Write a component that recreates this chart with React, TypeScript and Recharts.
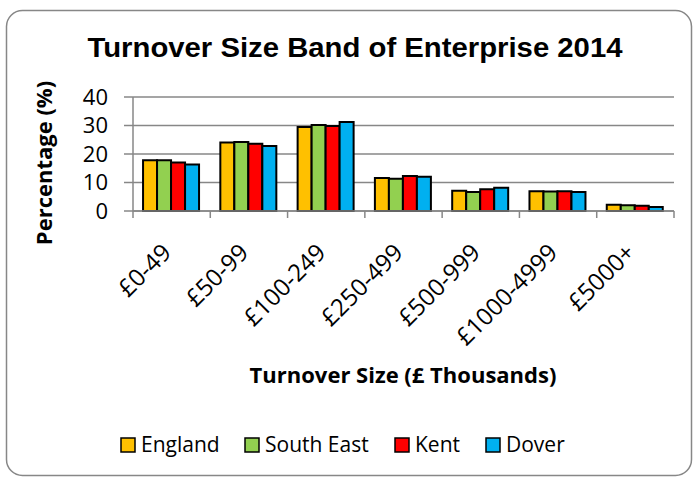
import { BarChart, Bar, XAxis, YAxis, CartesianGrid } from 'recharts';

const categories = ['£0-49', '£50-99', '£100-249', '£250-499', '£500-999', '£1000-4999', '£5000+'];
const england = [17.8, 24.0, 29.5, 11.6, 7.1, 6.9, 2.2];
const southEast = [17.8, 24.2, 30.2, 11.3, 6.7, 6.8, 2.0];
const kent = [17.0, 23.6, 29.8, 12.3, 7.6, 6.9, 1.8];
const dover = [16.3, 22.8, 31.2, 12.0, 8.2, 6.7, 1.4];
const yTicks = [0, 10, 20, 30, 40];

const SERIES = [
    { key: 'england', name: 'England', color: '#FFC000' },
    { key: 'southEast', name: 'South East', color: '#92D050' },
    { key: 'kent', name: 'Kent', color: '#FF0000' },
    { key: 'dover', name: 'Dover', color: '#00B0F0' },
];

const data = categories.map((band, i) => ({
    band,
    england: england[i],
    southEast: southEast[i],
    kent: kent[i],
    dover: dover[i],
}));

const FONT = '"Open Sans", "Noto Sans", sans-serif';
const AXIS_GREY = '#878787';

// Excel style: tick marks at category boundaries, label rotated -45 and ending at the centre
const CategoryTick = (props: any) => {
    const { x, y, payload, index, visibleTicksCount } = props;
    const half = payload?.offset ?? 38.7;
    return (
        <g>
            <line x1={x - half} x2={x - half} y1={y} y2={y + 7} stroke={AXIS_GREY} strokeWidth={1.5} />
            {index === visibleTicksCount - 1 && (
                <line x1={x + half} x2={x + half} y1={y} y2={y + 7} stroke={AXIS_GREY} strokeWidth={1.5} />
            )}
            <text
                transform={`translate(${x + 1},${y + 43}) rotate(-45)`}
                textAnchor="end"
                fontFamily={FONT}
                fontSize={24}
                fill="#000"
            >
                {payload.value}
            </text>
        </g>
    );
};

export default function App() {
    return (
        <div style={{ position: 'absolute', left: 0, top: 0, width: 696, height: 479, background: '#fff' }}>
            <BarChart
                width={696}
                height={479}
                data={data}
                margin={{ top: 97, right: 22, bottom: 0, left: 0 }}
                barCategoryGap="13%"
                barGap={0}
            >
                <CartesianGrid vertical={false} stroke={AXIS_GREY} strokeWidth={1.5} />
                <XAxis
                    dataKey="band"
                    height={268}
                    interval={0}
                    tickLine={false}
                    tickSize={0}
                    tickMargin={0}
                    axisLine={{ stroke: AXIS_GREY, strokeWidth: 1.5 }}
                    tick={<CategoryTick />}
                />
                <YAxis
                    width={133}
                    domain={[0, 40]}
                    ticks={yTicks}
                    interval={0}
                    tickSize={9}
                    tickMargin={16}
                    axisLine={{ stroke: AXIS_GREY, strokeWidth: 1.5 }}
                    tickLine={{ stroke: AXIS_GREY, strokeWidth: 1.5 }}
                    tick={{ fill: '#000', fontFamily: FONT, fontSize: 22 }}
                />
                {SERIES.map((s) => (
                    <Bar
                        key={s.key}
                        dataKey={s.key}
                        name={s.name}
                        fill={s.color}
                        stroke="#000"
                        strokeWidth={2}
                        isAnimationActive={false}
                    />
                ))}
            </BarChart>
            <svg
                width={696}
                height={479}
                style={{ position: 'absolute', left: 0, top: 0, pointerEvents: 'none' }}
            >
                <rect x={6.5} y={10.5} width={685} height={465} rx={16} fill="none" stroke={AXIS_GREY} strokeWidth={1.5} />
                <text
                    x={355}
                    y={57}
                    textAnchor="middle"
                    fontFamily='"Liberation Sans", Arial, sans-serif'
                    fontWeight="bold"
                    fontSize={27}
                    textLength={535}
                    lengthAdjust="spacingAndGlyphs"
                >
                    Turnover Size Band of Enterprise 2014
                </text>
                <text
                    transform="translate(52,163) rotate(-90)"
                    textAnchor="middle"
                    fontFamily={FONT}
                    fontWeight="bold"
                    fontSize={22}
                >
                    Percentage (%)
                </text>
                <text x={403} y={383} textAnchor="middle" fontFamily={FONT} fontWeight="bold" fontSize={22}>
                    Turnover Size (£ Thousands)
                </text>
                {SERIES.map((s, i) => {
                    const lx = [121, 245, 395, 486][i];
                    return (
                        <g key={s.key}>
                            <rect x={lx} y={438} width={14} height={14} fill={s.color} stroke="#000" strokeWidth={1.5} />
                            <text x={lx + 20} y={452} fontFamily={FONT} fontSize={21}>
                                {s.name}
                            </text>
                        </g>
                    );
                })}
            </svg>
        </div>
    );
}
